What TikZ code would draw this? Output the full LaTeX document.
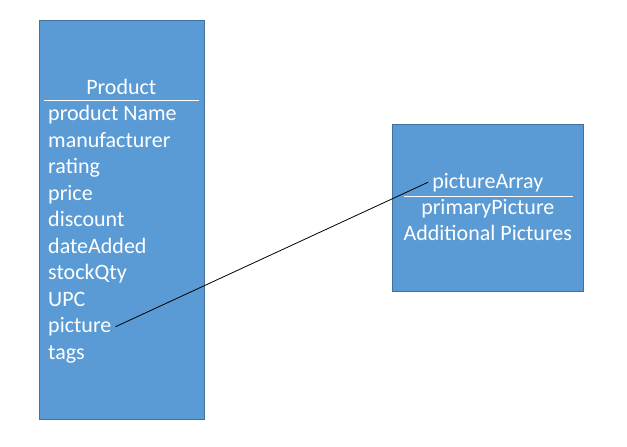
\documentclass[tikz,border=0pt]{standalone}
\usepackage{fontspec}
\setmainfont{Carlito}
\usetikzlibrary{positioning}

\definecolor{boxfill}{HTML}{5B9BD5}
\definecolor{boxline}{HTML}{41719C}
\newcommand{\fieldfont}{\fontsize{22}{26.5}\selectfont}

\begin{document}
\begin{tikzpicture}[x=1pt,y=-1pt,
        class box/.style={rectangle,draw=boxline,fill=boxfill,line width=0.9pt,inner sep=0pt,anchor=north west},
        field/.style={text=white,font=\fieldfont,inner sep=4pt},
        rule/.style={draw=white,line width=0.9pt},
        link/.style={draw=black,line width=0.8pt}]
        \useasboundingbox (0,0) rectangle (627,447);

        % the two boxes
        \node[class box,minimum width=164.5pt,minimum height=399pt] (product) at (39,20) {};
        \node[class box,minimum width=191pt,minimum height=166.5pt] (pictures) at (392.3,124.3) {};

        % product fields
        \node[field,anchor=base] (title) at (121.3,94) {Product};
        \draw[rule] (44,100) -- (199,100);
        \foreach \name/\txt [count=\i] in {pname/product Name,maker/manufacturer,rating/rating,
                price/price,discount/discount,added/dateAdded,stock/stockQty,upc/UPC,
                picture/picture,tags/tags}
            \node[field,anchor=base west] (\name) at (44,94+26.5*\i) {\txt};

        % picture fields
        \node[field,anchor=base] (pictureArray) at (487.8,188) {pictureArray};
        \draw[rule] (404,196.7) -- (573,196.7);
        \node[field,anchor=base] (primary) at (487.8,214) {primaryPicture};
        \node[field,anchor=base] (additional) at (487.8,240) {Additional Pictures};

        \draw[link] (picture.east) -- (pictureArray.west);
    \end{tikzpicture}
\end{document}
